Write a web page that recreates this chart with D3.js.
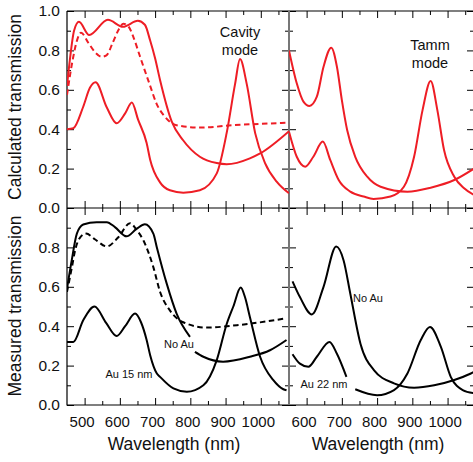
<!DOCTYPE html>
<html>
<head>
<meta charset="utf-8">
<script src="https://cdn.jsdelivr.net/npm/d3@7"></script>
<style>
  body { margin: 0; background: #fff; }
  svg { display: block; font-family: "Liberation Sans", Arial, Helvetica, sans-serif; }
</style>
</head>
<body>
<div id="chart"></div>
<script>
// ---- data: [wavelength nm, transmission] ----
const calcCavNoAu = [[450,0.62],[458,0.75],[470,0.90],[484,0.945],[513,0.878],[566,0.955],[609,0.92],[651,0.95],[671,0.93],[686,0.85],[700,0.76],[714,0.65],[747,0.44],[779,0.345],[827,0.26],[875,0.228],[903,0.222],[969,0.252],[998,0.277],[1080,0.39]];
const calcCavDash = [[450,0.574],[467,0.76],[480,0.86],[490,0.89],[510,0.84],[530,0.79],[548,0.768],[562,0.775],[580,0.84],[598,0.91],[610,0.935],[625,0.92],[640,0.86],[657,0.77],[686,0.62],[704,0.53],[728,0.463],[761,0.42],[827,0.408],[920,0.42],[1080,0.433]];
const calcCavAu = [[450,0.40],[468,0.405],[496,0.514],[515,0.61],[531,0.638],[563,0.51],[591,0.43],[615,0.48],[634,0.535],[652,0.447],[676,0.33],[686,0.245],[714,0.13],[742,0.09],[780,0.078],[827,0.09],[875,0.176],[903,0.38],[927,0.63],[941,0.756],[960,0.63],[984,0.38],[1012,0.228],[1045,0.134],[1080,0.075]];

const calcTammNoAu = [[550,0.80],[572,0.633],[591,0.54],[608,0.518],[629,0.565],[648,0.717],[670,0.814],[686,0.717],[700,0.548],[715,0.396],[738,0.26],[772,0.159],[810,0.108],[886,0.083],[952,0.103],[1019,0.142],[1075,0.2]];
const calcTammAu = [[550,0.387],[572,0.26],[596,0.21],[619,0.26],[646,0.337],[667,0.244],[691,0.142],[724,0.083],[762,0.058],[790,0.046],[838,0.058],[876,0.108],[905,0.26],[929,0.497],[952,0.645],[971,0.497],[990,0.294],[1019,0.159],[1047,0.10],[1075,0.066]];

const measCavNoAu = [[450,0.59],[463,0.73],[478,0.87],[496,0.916],[534,0.928],[563,0.928],[586,0.903],[619,0.856],[648,0.895],[671,0.917],[695,0.87],[705,0.80],[733,0.616],[761,0.464],[799,0.346],[805,null],[813,0.27],[837,0.245],[893,0.22],[969,0.245],[1026,0.278],[1073,0.33]];
const measCavDash = [[450,0.574],[464,0.70],[473,0.785],[487,0.85],[504,0.87],[530,0.84],[563,0.805],[595,0.85],[629,0.923],[647,0.89],[667,0.835],[695,0.70],[714,0.575],[742,0.48],[780,0.42],[846,0.393],[932,0.405],[1073,0.44]];
const measCavAu15 = [[450,0.32],[468,0.32],[496,0.43],[528,0.50],[561,0.417],[591,0.35],[615,0.40],[643,0.464],[660,0.42],[676,0.33],[686,0.253],[705,0.16],[714,0.143],[752,0.084],[790,0.067],[837,0.10],[875,0.228],[903,0.41],[922,0.50],[943,0.596],[955,0.548],[969,0.447],[998,0.245],[1035,0.127],[1064,0.08],[1073,0.075]];

const measTammNoAu = [[560,0.628],[581,0.548],[615,0.46],[648,0.60],[684,0.805],[705,0.734],[724,0.565],[753,0.31],[791,0.177],[848,0.11],[905,0.088],[962,0.10],[1019,0.127],[1066,0.16],[1075,0.168]];
const measTammAu22 = [[560,0.258],[581,0.21],[605,0.194],[629,0.245],[665,0.32],[686,0.26],[713,0.143],[725,null],[738,0.08],[800,0.05],[848,0.076],[886,0.16],[924,0.33],[950,0.396],[981,0.295],[1009,0.143],[1043,0.076],[1075,0.06]];

const xMajorL = [500, 600, 700, 800, 900, 1000];
const xMinorL = [550, 650, 750, 850, 950, 1050];
const xMajorR = [600, 700, 800, 900, 1000];
const xMinorR = [650, 750, 850, 950, 1050];
const yMajor = [0, 0.2, 0.4, 0.6, 0.8, 1.0];
const yMinor = [0.1, 0.3, 0.5, 0.7, 0.9];
const yLabelsBottom = [0, 0.2, 0.4, 0.6, 0.8];

const width = 473;
const height = 462;
const red = "#ee1d25";

const svg = d3.select("#chart")
    .append("svg")
    .attr("width", width)
    .attr("height", height);

const edgeL = 67, edgeM = 289, edgeR = 474;
const edgeT = 11, edgeMY = 208, edgeB = 405;

const xL = d3.scaleLinear().domain([450, 1080]).range([edgeL, edgeM]);
const xR = d3.scaleLinear().domain([550, 1075]).range([edgeM, edgeR]);
const yT = d3.scaleLinear().domain([0, 1]).range([edgeMY, edgeT]);
const yB = d3.scaleLinear().domain([0, 1]).range([edgeB, edgeMY]);

// ticks helper: draws tick marks only, no domain line
function ticks(axis, scale, values, size, tx, ty, labels) {
    const g = svg.append("g")
        .attr("transform", `translate(${tx},${ty})`)
        .call(axis(scale).tickValues(values).tickSize(size)
            .tickPadding(labels ? labels.pad : 3)
            .tickFormat(labels ? labels.fmt : ""));
    g.select(".domain").remove();
    g.selectAll("line").attr("stroke", "#000").attr("stroke-width", 1);
    g.attr("font-family", null).attr("font-size", null);
    g.selectAll("text").attr("fill", "#111").style("font-size", labels ? labels.size : 0);
    if (labels && labels.dx) g.selectAll("text").attr("dx", labels.dx);
    return g;
}

const fmtX = d3.format("d");
const fmtY = d3.format(".1f");

// x ticks: top edge (down), middle (both ways), bottom edge (up)
[[xL, xMajorL, xMinorL], [xR, xMajorR, xMinorR]].forEach(([xs, maj, mnr]) => {
    ticks(d3.axisTop, xs, maj, -7, 0, edgeT);
    ticks(d3.axisTop, xs, mnr, -4, 0, edgeT);
    ticks(d3.axisBottom, xs, maj, -7, 0, edgeMY);
    ticks(d3.axisBottom, xs, mnr, -4, 0, edgeMY);
    ticks(d3.axisTop, xs, maj, -7, 0, edgeMY);
    ticks(d3.axisTop, xs, mnr, -4, 0, edgeMY);
    ticks(d3.axisBottom, xs, maj, -7, 0, edgeB, {fmt: fmtX, pad: 11, size: "15px", dx: "-3"});
    ticks(d3.axisBottom, xs, mnr, -4, 0, edgeB);
});

// y ticks: left edge (inward, labelled), divider (both ways), right edge
[[yT, yMajor], [yB, yLabelsBottom]].forEach(([ys, lab]) => {
    ticks(d3.axisLeft, ys, lab, -7, edgeL, 0, {fmt: fmtY, pad: 7, size: "15.5px"});
    ticks(d3.axisLeft, ys, yMinor, -4, edgeL, 0);
    ticks(d3.axisRight, ys, yMajor, -7, edgeM, 0);
    ticks(d3.axisRight, ys, yMinor, -4, edgeM, 0);
    ticks(d3.axisLeft, ys, yMajor, -7, edgeM, 0);
    ticks(d3.axisLeft, ys, yMinor, -4, edgeM, 0);
    ticks(d3.axisRight, ys, yMajor, -7, edgeR, 0);
    ticks(d3.axisRight, ys, yMinor, -4, edgeR, 0);
});

// frame
svg.append("path")
    .attr("d", `M${edgeL},${edgeT}H${edgeR}M${edgeL},${edgeT}V${edgeB}H${edgeR}M${edgeL},${edgeMY}H${edgeR}`)
    .attr("fill", "none").attr("stroke", "#000").attr("stroke-width", 1.2);
svg.append("line")
    .attr("x1", edgeM).attr("x2", edgeM).attr("y1", edgeT).attr("y2", edgeB)
    .attr("stroke", "#777").attr("stroke-width", 2);

// clip per panel
const defs = svg.append("defs");
const panels = [
    {id: "tl", x: xL, y: yT, x0: edgeL, x1: edgeM, y0: edgeT, y1: edgeMY},
    {id: "tr", x: xR, y: yT, x0: edgeM, x1: edgeR, y0: edgeT, y1: edgeMY},
    {id: "bl", x: xL, y: yB, x0: edgeL, x1: edgeM, y0: edgeMY, y1: edgeB},
    {id: "br", x: xR, y: yB, x0: edgeM, x1: edgeR, y0: edgeMY, y1: edgeB}
];
panels.forEach(p => {
    defs.append("clipPath").attr("id", "clip-" + p.id)
        .append("rect").attr("x", p.x0).attr("y", p.y0)
        .attr("width", p.x1 - p.x0).attr("height", p.y1 - p.y0);
});

function curve(p, data, color, dashed) {
    const line = d3.line()
        .defined(d => d[1] !== null)
        .x(d => p.x(d[0]))
        .y(d => p.y(d[1]))
        .curve(d3.curveMonotoneX);
    svg.append("path")
        .datum(data)
        .attr("clip-path", `url(#clip-${p.id})`)
        .attr("d", line)
        .attr("fill", "none")
        .attr("stroke", color)
        .attr("stroke-width", 2)
        .attr("stroke-linejoin", "round")
        .attr("stroke-dasharray", dashed ? "5.5,3.5" : null);
}

curve(panels[0], calcCavDash, red, true);
curve(panels[0], calcCavNoAu, red);
curve(panels[0], calcCavAu, red);
curve(panels[1], calcTammNoAu, red);
curve(panels[1], calcTammAu, red);
curve(panels[2], measCavDash, "#000", true);
curve(panels[2], measCavNoAu, "#000");
curve(panels[2], measCavAu15, "#000");
curve(panels[3], measTammNoAu, "#000");
curve(panels[3], measTammAu22, "#000");

// text
function label(x, y, txt, size, anchor) {
    svg.append("text")
        .attr("x", x).attr("y", y)
        .attr("text-anchor", anchor || "middle")
        .style("font-size", size)
        .attr("fill", "#111")
        .text(txt);
}

label(240, 37, "Cavity", "14.5px");
label(240, 55, "mode", "14.5px");
label(430, 50, "Tamm", "14.5px");
label(430, 68, "mode", "14.5px");
label(179, 348, "No Au", "11px");
label(129, 378, "Au 15 nm", "11px");
label(368, 302, "No Au", "11px");
label(324, 388, "Au 22 nm", "11px");

label(174, 450, "Wavelength (nm)", "17.5px");
label(378, 450, "Wavelength (nm)", "17.5px");

svg.append("text")
    .attr("transform", "translate(21,107) rotate(-90)")
    .attr("text-anchor", "middle")
    .style("font-size", "17.5px")
    .attr("fill", "#111")
    .text("Calculated transmission");
svg.append("text")
    .attr("transform", "translate(21,306) rotate(-90)")
    .attr("text-anchor", "middle")
    .style("font-size", "17.5px")
    .attr("fill", "#111")
    .text("Measured transmission");
</script>
</body>
</html>
